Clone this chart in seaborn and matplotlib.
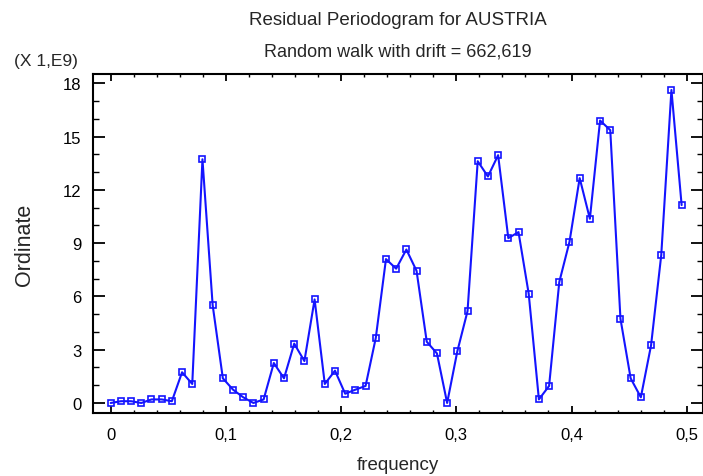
import numpy as np
import pandas as pd
import matplotlib
matplotlib.use("Agg")
import matplotlib.pyplot as plt
import seaborn as sns
from matplotlib.ticker import MultipleLocator

# Residual periodogram ordinates (units of 1E9), Fourier frequencies k/n
n_obs = 113
k_index = list(range(57))
ordinate = [0.0, 0.1, 0.1, 0.0, 0.2, 0.2, 0.1, 1.73, 1.07, 13.72,
            5.51, 1.39, 0.75, 0.32, 0.0, 0.2, 2.25, 1.39, 3.34, 2.36,
            5.83, 1.07, 1.82, 0.52, 0.75, 0.96, 3.66, 8.10, 7.56, 8.64,
            7.44, 3.45, 2.79, 0.0, 2.91, 5.17, 13.61, 12.75, 13.95, 9.28,
            9.62, 6.15, 0.2, 0.96, 6.81, 9.07, 12.66, 10.37, 15.90, 15.36,
            4.74, 1.39, 0.32, 3.24, 8.32, 17.62, 11.14]
x_ticks = [0, 0.1, 0.2, 0.3, 0.4, 0.5]
x_tick_labels = ["0", "0,1", "0,2", "0,3", "0,4", "0,5"]
y_ticks = [0, 3, 6, 9, 12, 15, 18]
y_tick_labels = ["0", "3", "6", "9", "12", "15", "18"]

df = pd.DataFrame({"frequency": np.array(k_index) / n_obs,
                   "Ordinate": ordinate})

sns.set_theme(style="ticks")
plt.rcParams["font.family"] = ["Liberation Sans", "DejaVu Sans"]

fig = plt.figure(figsize=(7.03, 4.77), dpi=100)
ax = fig.add_axes([0.1319, 0.1321, 0.8674, 0.7107])

sns.lineplot(data=df, x="frequency", y="Ordinate", ax=ax,
             color="#1414ff", linewidth=1.5, marker="s", markersize=3.8,
             markerfacecolor="none", markeredgecolor="#1414ff",
             markeredgewidth=1.2)

ax.set_xlim(-0.0156, 0.5137)
ax.set_ylim(-0.563, 18.52)
ax.set_xticks(x_ticks, x_tick_labels)
ax.set_yticks(y_ticks, y_tick_labels)
ax.xaxis.set_minor_locator(MultipleLocator(0.02))
ax.yaxis.set_minor_locator(MultipleLocator(1))

ax.tick_params(axis="both", which="both", direction="in", colors="black",
               top=True, right=True, labelsize=12)
ax.tick_params(axis="x", which="major", length=4.8, width=1.3, pad=10)
ax.tick_params(axis="x", which="minor", length=2.0, width=1.0)
ax.tick_params(axis="y", which="major", length=8.6, width=1.3, pad=8)
ax.tick_params(axis="y", which="minor", length=4.3, width=1.0)
for s in ax.spines.values():
    s.set_visible(True)
    s.set_color("black")
    s.set_linewidth(1.5)

ax.set_xlabel("frequency", fontsize=13.5, labelpad=10)
ax.set_ylabel("Ordinate", fontsize=15.5, labelpad=20)

fig.text(0.566, 0.957, "Residual Periodogram for AUSTRIA",
         ha="center", va="center", fontsize=13.5)
fig.text(0.566, 0.890, "Random walk with drift = 662,619",
         ha="center", va="center", fontsize=13)
fig.text(0.066, 0.871, "(X 1,E9)", ha="center", va="center", fontsize=12.5)

fig.savefig("out.png", dpi=100)
